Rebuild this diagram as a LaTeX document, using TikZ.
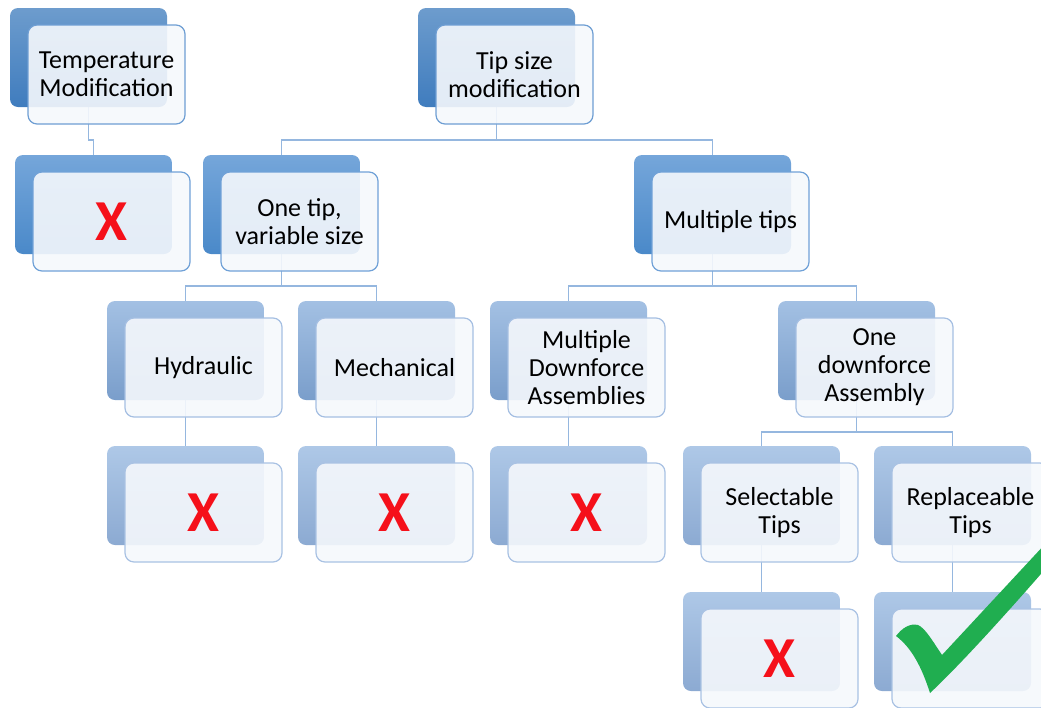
\documentclass[tikz,border=0pt]{standalone}
\usepackage{fontspec}
\setmainfont{Carlito}
\usetikzlibrary{backgrounds}

% level colours: back-box gradient (top/bottom) and front-box border
\definecolor{bAt}{HTML}{6D9CCD}\definecolor{bAb}{HTML}{3F7CBE}\definecolor{fA}{HTML}{6E9ED3}
\definecolor{bBt}{HTML}{75A6DA}\definecolor{bBb}{HTML}{4A89C9}\definecolor{fB}{HTML}{70A1D7}
\definecolor{bCt}{HTML}{A3C0E3}\definecolor{bCb}{HTML}{7A9ECB}\definecolor{fC}{HTML}{A5BFE2}
\definecolor{bDt}{HTML}{AEC8E7}\definecolor{bDb}{HTML}{8CAAD2}\definecolor{fD}{HTML}{A9C2E3}
\definecolor{frontfill}{HTML}{F5F8FC}
\definecolor{linkc}{HTML}{95B7DF}
\definecolor{nored}{HTML}{F5101A}
\definecolor{okgreen}{HTML}{20AE50}

\tikzset{
  backbox/.style={rectangle, rounded corners=8pt, minimum width=157pt,
    minimum height=99pt, inner sep=0pt},
  frontbox/.style={rectangle, rounded corners=9pt, minimum width=157pt,
    minimum height=99pt, inner sep=0pt, fill=frontfill, fill opacity=0.9,
    text opacity=1, line width=1.2pt, align=center,
    font=\fontsize{26}{28}\selectfont},
  lvA/.style={top color=bAt, bottom color=bAb},
  lvB/.style={top color=bBt, bottom color=bBb},
  lvC/.style={top color=bCt, bottom color=bCb},
  lvD/.style={top color=bDt, bottom color=bDb},
  frA/.style={draw=fA}, frB/.style={draw=fB},
  frC/.style={draw=fC}, frD/.style={draw=fD},
  link/.style={draw=linkc, line width=1.5pt},
}

% red "no" mark
\newcommand\nomark{{\fontsize{58}{58}\selectfont\bfseries\color{nored}X}}

% #1 name, #2 left, #3 top (back box), #4 level letter, #5 text
\newcommand\smartbox[5]{%
  \node[backbox, lv#4] (#1-b) at (#2+78.5, #3+49.5) {};
  \node[frontbox, fr#4] (#1) at (#2+96.5, #3+66.5) {#5};
}

\begin{document}
\begin{tikzpicture}[x=1pt, y=-1pt]
  \clip (0,0) rectangle (1041,707);

  % level 1
  \smartbox{temp}{10}{8}{A}{Temperature\\Modification}
  \smartbox{tip}{418}{8}{A}{Tip size\\modification}
  % level 2
  \smartbox{tempX}{15}{155}{B}{\nomark}
  \smartbox{onetip}{203}{155}{B}{One tip,\\variable size}
  \smartbox{multi}{634}{155}{B}{Multiple tips}
  % level 3
  \smartbox{hyd}{107}{301}{C}{Hydraulic}
  \smartbox{mech}{298}{301}{C}{Mechanical}
  \smartbox{mda}{490}{301}{C}{Multiple\\Downforce\\Assemblies}
  \smartbox{oda}{778}{301}{C}{One\\downforce\\Assembly}
  % level 4
  \smartbox{hydX}{107}{446}{D}{\nomark}
  \smartbox{mechX}{298}{446}{D}{\nomark}
  \smartbox{mdaX}{490}{446}{D}{\nomark}
  \smartbox{sel}{683}{446}{D}{Selectable\\Tips}
  \smartbox{rep}{874}{446}{D}{Replaceable\\Tips}
  % level 5
  \smartbox{selX}{683}{592}{D}{\nomark}
  \smartbox{repOK}{874}{592}{D}{}

  % connectors, kept underneath the boxes
  \begin{pgfonlayer}{background}
    \draw[link] (temp-b.south) -- ++(0,33) -| (tempX-b.north);
    \draw[link] (tip-b.south) -- ++(0,33) -| (onetip-b.north);
    \draw[link] (tip-b.south) -- ++(0,33) -| (multi-b.north);
    \draw[link] (onetip-b.south) -- ++(0,32) -| (hyd-b.north);
    \draw[link] (onetip-b.south) -- ++(0,32) -| (mech-b.north);
    \draw[link] (multi-b.south) -- ++(0,32) -| (mda-b.north);
    \draw[link] (multi-b.south) -- ++(0,32) -| (oda-b.north);
    \draw[link] (hyd-b.south) -- (hydX-b.north);
    \draw[link] (mech-b.south) -- (mechX-b.north);
    \draw[link] (mda-b.south) -- (mdaX-b.north);
    \draw[link] (oda-b.south) -- ++(0,32) -| (sel-b.north);
    \draw[link] (oda-b.south) -- ++(0,32) -| (rep-b.north);
    \draw[link] (sel-b.south) -- (selX-b.north);
    \draw[link] (rep-b.south) -- (repOK-b.north);
  \end{pgfonlayer}

  % green check mark over the last box
  \fill[okgreen] (896,636)
    .. controls (902,628) and (910,623) .. (918,625)
    .. controls (925,628) and (932,640) .. (942,655)
    -- (1060,528) -- (1060,552)
    .. controls (1010,610) and (960,665) .. (930,693)
    .. controls (922,668) and (912,648) .. (896,636) -- cycle;
\end{tikzpicture}
\end{document}
